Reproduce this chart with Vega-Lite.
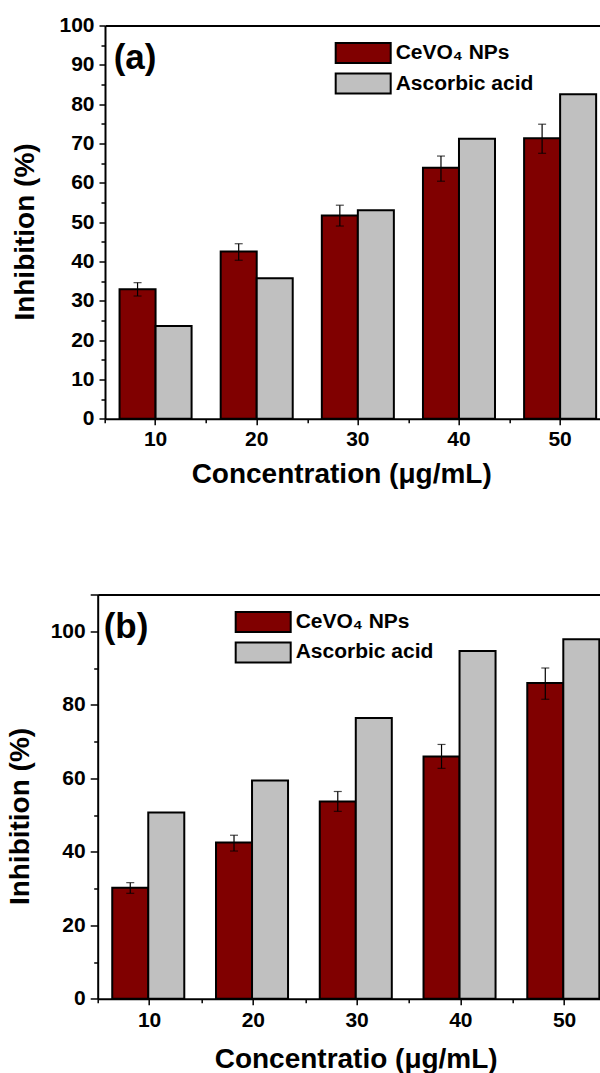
{
  "$schema": "https://vega.github.io/schema/vega-lite/v6.json",
  "padding": {"top": 14.5, "left": 6.7, "right": 0, "bottom": 0},
  "background": "white",
  "spacing": 105,
  "config": {
    "view": {"stroke": null},
    "font": "Liberation Sans",
    "axis": {
      "domainColor": "black", "domainWidth": 2, "tickColor": "black", "tickWidth": 1.5,
      "labelColor": "black", "titleColor": "black", "labelFont": "Liberation Sans", "titleFont": "Liberation Sans",
      "labelFontWeight": "bold", "titleFontWeight": "bold", "labelFontSize": 21, "titleFontSize": 28, "grid": false
    },
    "title": {"font": "Liberation Sans", "fontWeight": "bold", "fontSize": 35, "anchor": "start", "frame": "group", "baseline": "top", "color": "black"},
    "legend": {
      "orient": "none", "title": null, "symbolType": "M-2.75,-1H2.75V1H-2.75Z", "symbolSize": 400,
      "symbolStrokeColor": "black", "symbolStrokeWidth": 2, "symbolOpacity": 1,
      "labelFont": "Liberation Sans", "labelFontWeight": "bold", "labelFontSize": 21, "labelColor": "black",
      "labelOffset": 21.5, "rowPadding": 2.5, "padding": 0
    }
  },
  "resolve": {"scale": {"color": "independent"}, "legend": {"color": "independent"}},
  "vconcat": [
    {
      "width": 513, "height": 393.2,
      "title": {"text": "(a)", "offset": -61, "dx": 16},
      "data": {"values": [
        {"c": "10", "s": "CeVO₄ NPs", "v": 32.9, "lo": 31.2, "hi": 34.6},
        {"c": "10", "s": "Ascorbic acid", "v": 23.6},
        {"c": "20", "s": "CeVO₄ NPs", "v": 42.5, "lo": 40.3, "hi": 44.5},
        {"c": "20", "s": "Ascorbic acid", "v": 35.7},
        {"c": "30", "s": "CeVO₄ NPs", "v": 51.7, "lo": 49.0, "hi": 54.3},
        {"c": "30", "s": "Ascorbic acid", "v": 53.0},
        {"c": "40", "s": "CeVO₄ NPs", "v": 63.8, "lo": 60.4, "hi": 66.8},
        {"c": "40", "s": "Ascorbic acid", "v": 71.2},
        {"c": "50", "s": "CeVO₄ NPs", "v": 71.3, "lo": 67.5, "hi": 74.9},
        {"c": "50", "s": "Ascorbic acid", "v": 82.5}
      ]},
      "resolve": {"axis": {"x": "independent", "y": "independent"}},
      "layer": [
        {
          "mark": {"type": "bar", "stroke": "black", "strokeWidth": 2},
          "encoding": {
            "x": {"field": "c", "type": "ordinal", "sort": null,
              "scale": {"range": [7.3, 513], "paddingInner": 0, "paddingOuter": 0},
              "axis": {"orient": "bottom", "labelAngle": 0, "tickSize": 6, "labelPadding": 3.5, "title": "Concentration (μg/mL)", "titleX": 243.5, "titleY": 41.6, "titleBaseline": "top"}},
            "xOffset": {"field": "s", "type": "nominal", "scale": {"domain": ["CeVO₄ NPs", "Ascorbic acid"], "paddingOuter": 0.404, "paddingInner": 0}},
            "y": {"field": "v", "type": "quantitative", "scale": {"domain": [0, 100], "nice": false},
              "axis": {"orient": "left", "offset": -7.3, "values": [0, 10, 20, 30, 40, 50, 60, 70, 80, 90, 100], "tickSize": 6, "labelPadding": 5, "title": "Inhibition (%)", "titleX": -65.3, "titleY": 206}},
            "color": {"field": "s", "type": "nominal", "scale": {"domain": ["CeVO₄ NPs", "Ascorbic acid"], "range": ["#800000", "#c0c0c0"]},
              "legend": {"legendX": 254.5, "legendY": 16.5}}
          }
        },
        {
          "transform": [{"filter": "isValid(datum.lo)"}],
          "mark": {"type": "rule", "color": "black", "strokeWidth": 1.2},
          "encoding": {
            "x": {"field": "c", "type": "ordinal", "sort": null,
              "axis": {"orient": "bottom", "tickBand": "extent", "labels": false, "domain": false, "tickSize": 4, "title": null}},
            "xOffset": {"field": "s", "type": "nominal"},
            "y": {"field": "lo", "type": "quantitative",
              "axis": {"orient": "left", "offset": -7.3, "values": [5, 15, 25, 35, 45, 55, 65, 75, 85, 95], "labels": false, "domain": false, "tickSize": 4, "title": null}},
            "y2": {"field": "hi"}
          }
        },
        {
          "transform": [{"filter": "isValid(datum.hi)"}],
          "mark": {"type": "tick", "color": "black", "thickness": 1.2, "size": 8, "orient": "horizontal"},
          "encoding": {
            "x": {"field": "c", "type": "ordinal", "sort": null,
              "axis": {"orient": "top", "labels": false, "ticks": false, "domain": true, "title": null}},
            "xOffset": {"field": "s", "type": "nominal"},
            "y": {"field": "hi", "type": "quantitative", "axis": null}
          }
        },
        {
          "transform": [{"filter": "isValid(datum.lo)"}],
          "mark": {"type": "tick", "color": "black", "thickness": 1.2, "size": 8, "orient": "horizontal"},
          "encoding": {
            "x": {"field": "c", "type": "ordinal", "sort": null, "axis": null},
            "xOffset": {"field": "s", "type": "nominal"},
            "y": {"field": "lo", "type": "quantitative", "axis": null}
          }
        }
      ]
    },
    {
      "width": 518.8, "height": 404.3,
      "title": {"text": "(b)", "offset": -51, "dx": 6},
      "data": {"values": [
        {"c": "10", "s": "CeVO₄ NPs", "v": 30.2, "lo": 28.7, "hi": 31.6},
        {"c": "10", "s": "Ascorbic acid", "v": 50.7},
        {"c": "20", "s": "CeVO₄ NPs", "v": 42.5, "lo": 40.2, "hi": 44.5},
        {"c": "20", "s": "Ascorbic acid", "v": 59.4},
        {"c": "30", "s": "CeVO₄ NPs", "v": 53.7, "lo": 51.0, "hi": 56.4},
        {"c": "30", "s": "Ascorbic acid", "v": 76.4},
        {"c": "40", "s": "CeVO₄ NPs", "v": 65.9, "lo": 62.7, "hi": 69.2},
        {"c": "40", "s": "Ascorbic acid", "v": 94.6},
        {"c": "50", "s": "CeVO₄ NPs", "v": 85.9, "lo": 81.5, "hi": 90.0},
        {"c": "50", "s": "Ascorbic acid", "v": 97.8}
      ]},
      "resolve": {"axis": {"x": "independent", "y": "independent"}},
      "layer": [
        {
          "mark": {"type": "bar", "stroke": "black", "strokeWidth": 2},
          "encoding": {
            "x": {"field": "c", "type": "ordinal", "sort": null,
              "scale": {"paddingInner": 0, "paddingOuter": 0},
              "axis": {"orient": "bottom", "labelAngle": 0, "tickSize": 6, "labelPadding": 4.7, "title": "Concentratio (μg/mL)", "titleX": 258, "titleY": 47, "titleBaseline": "top"}},
            "xOffset": {"field": "s", "type": "nominal", "scale": {"domain": ["CeVO₄ NPs", "Ascorbic acid"], "paddingOuter": 0.404, "paddingInner": 0}},
            "y": {"field": "v", "type": "quantitative", "scale": {"domain": [0, 110], "nice": false},
              "axis": {"orient": "left", "values": [0, 20, 40, 60, 80, 100, 110], "labelExpr": "datum.value == 110 ? '' : datum.label", "tickSize": 7.5, "labelPadding": 5, "title": "Inhibition (%)", "titleX": -63, "titleY": 221.5}},
            "color": {"field": "s", "type": "nominal", "scale": {"domain": ["CeVO₄ NPs", "Ascorbic acid"], "range": ["#800000", "#c0c0c0"]},
              "legend": {"legendX": 154.5, "legendY": 16.5}}
          }
        },
        {
          "transform": [{"filter": "isValid(datum.lo)"}],
          "mark": {"type": "rule", "color": "black", "strokeWidth": 1.2},
          "encoding": {
            "x": {"field": "c", "type": "ordinal", "sort": null,
              "axis": {"orient": "bottom", "tickBand": "extent", "labels": false, "domain": false, "tickSize": 4, "title": null}},
            "xOffset": {"field": "s", "type": "nominal"},
            "y": {"field": "lo", "type": "quantitative",
              "axis": {"orient": "left", "values": [10, 30, 50, 70, 90], "labels": false, "domain": false, "tickSize": 4, "title": null}},
            "y2": {"field": "hi"}
          }
        },
        {
          "transform": [{"filter": "isValid(datum.hi)"}],
          "mark": {"type": "tick", "color": "black", "thickness": 1.2, "size": 8, "orient": "horizontal"},
          "encoding": {
            "x": {"field": "c", "type": "ordinal", "sort": null,
              "axis": {"orient": "top", "labels": false, "ticks": false, "domain": true, "title": null}},
            "xOffset": {"field": "s", "type": "nominal"},
            "y": {"field": "hi", "type": "quantitative", "axis": null}
          }
        },
        {
          "transform": [{"filter": "isValid(datum.lo)"}],
          "mark": {"type": "tick", "color": "black", "thickness": 1.2, "size": 8, "orient": "horizontal"},
          "encoding": {
            "x": {"field": "c", "type": "ordinal", "sort": null, "axis": null},
            "xOffset": {"field": "s", "type": "nominal"},
            "y": {"field": "lo", "type": "quantitative", "axis": null}
          }
        }
      ]
    }
  ]
}
